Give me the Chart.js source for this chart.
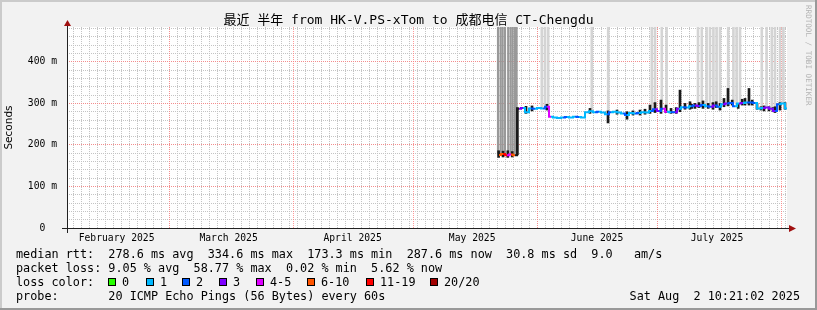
<!DOCTYPE html>
<html>
<head>
<meta charset="utf-8">
<title>SmokePing - HK-V.PS-xTom to CT-Chengdu</title>
<script src="https://cdn.jsdelivr.net/npm/chart.js@4/dist/chart.umd.min.js"></script>
<style>
  html, body { margin: 0; padding: 0; background: #f2f2f2; }
  #wrap { position: relative; width: 817px; height: 310px; overflow: hidden; }
  #wrap canvas { position: absolute; left: 0; top: 0; }
  .leg { position: absolute; left: 16px; font: 11.8px "DejaVu Sans Mono", monospace; color: #000; white-space: pre; line-height: 14px; }
  .box { position: absolute; width: 6px; height: 6px; border: 1px solid #000; top: 278px; }
  #mark { position: absolute; left: 804px; top: 5px; writing-mode: vertical-rl; font: 7.6px "DejaVu Sans Mono", monospace; color: #b4b4b4; line-height: 8px; }
</style>
</head>
<body>
<div id="wrap">
  <canvas id="pingChart" width="817" height="310"></canvas>
  <div id="mark">RRDTOOL / TOBI OETIKER</div>
  <div class="leg" style="top:247px">median rtt:  278.6 ms avg  334.6 ms max  173.3 ms min  287.6 ms now  30.8 ms sd  9.0   am/s</div>
  <div class="leg" style="top:261px">packet loss: 9.05 % avg  58.77 % max  0.02 % min  5.62 % now</div>
  <div class="leg" style="top:275px">loss color:</div>
  <div id="lossLegend"></div>
  <div class="leg" style="top:289px">probe:       20 ICMP Echo Pings (56 Bytes) every 60s</div>
  <div class="leg" style="left:auto;right:17px;top:289px">Sat Aug  2 10:21:02 2025</div>
</div>

<script>
// smokeping loss colours (20 pings per round)
const lossColors = ['#26ff00', '#00b8ff', '#0059ff', '#7e00ff', '#dd00ff', '#ff5500', '#ff0000', '#a10000'];
const lossLabels = ['0', '1', '2', '3', '4-5', '6-10', '11-19', '20/20'];

// x is days since graph start (Feb 3 2025 10:21), 180 days wide
const monthLabels = ['February 2025', 'March 2025', 'April 2025', 'May 2025', 'June 2025', 'July 2025'];
const monthLabelDays = [12.4, 40.4, 71.4, 101.3, 132.5, 162.5];
const monthStartDays = [25.57, 56.57, 86.57, 117.57, 147.57, 178.57];
const yTicks = [0, 100, 200, 300, 400];

// median rtt (ms) per day and number of lost pings (index into lossColors)
const medianDays = [108, 109, 110, 111, 112, 113, 114, 115, 116, 117, 118, 119, 120,
  121, 122, 123, 124, 125, 126, 127, 128, 129, 130, 131, 132, 133, 134, 135, 136, 137,
  138, 139, 140, 141, 142, 143, 144, 145, 146, 147, 148, 149, 150, 151, 152, 153, 154,
  155, 156, 157, 158, 159, 160, 161, 162, 163, 164, 165, 166, 167, 168, 169, 170, 171,
  172, 173, 174, 175, 176, 177, 178, 179, 180];
const medianMs = [176, 178, 175, 177, 175, 287, 289, 279, 288, 287, 289, 288, 292,
  268, 266, 265, 266, 267, 266, 268, 267, 266, 279, 281, 279, 280, 278, 274, 279, 280,
  278, 276, 272, 277, 276, 277, 279, 278, 282, 286, 282, 287, 280, 279, 279, 287, 291,
  290, 293, 295, 294, 296, 293, 292, 295, 292, 298, 300, 301, 293, 300, 301, 302, 302,
  301, 288, 289, 290, 287, 282, 298, 300, 288];
const medianLoss = [5, 6, 4, 5, 5, 3, 1, 1, 2, 1, 1, 2, 4,
  1, 1, 1, 2, 1, 1, 2, 1, 1, 1, 1, 2, 1, 1, 2, 1, 1,
  1, 2, 1, 1, 2, 1, 1, 1, 2, 3, 2, 4, 1, 2, 3, 1, 2,
  1, 2, 3, 2, 1, 2, 3, 2, 1, 3, 2, 2, 1, 3, 1, 2, 2,
  1, 1, 3, 3, 3, 2, 1, 1, 1];

// dark smoke: spread of the pings around the median
const spikeDays = [107.9, 109, 110.2, 111.3, 112.6, 114.75, 116.25, 120, 130.75, 135.25,
  137.5, 140, 141.5, 143.25, 144.5, 145.75, 147, 148.5, 149.75, 151, 152.3, 153.25,
  154.5, 155.75, 156.2, 157, 158, 159, 160.3, 161.5, 162.3, 163.25, 164.25, 165.25,
  166.3, 167.8, 168.8, 169.5, 170.5, 171.3, 172.5, 173.5, 174.25, 175.5, 176.5, 177,
  178.25, 179.5];
const spikeLo = [170, 171, 170, 171, 176, 276, 282, 284, 276, 253,
  274, 262, 272, 272, 274, 276, 278, 276, 278, 276, 276, 280,
  286, 286, 288, 288, 290, 288, 288, 286, 290, 284, 292, 294,
  296, 288, 296, 296, 296, 296, 286, 284, 282, 282, 280, 278,
  284, 286];
const spikeHi = [186, 185, 186, 184, 290, 293, 294, 298, 288, 282,
  284, 280, 282, 284, 286, 296, 302, 308, 296, 288, 290, 332,
  300, 304, 298, 300, 302, 306, 300, 302, 304, 300, 312, 336,
  308, 300, 310, 312, 336, 308, 300, 292, 294, 292, 290, 292,
  302, 302];

// rounds with very slow pings: smoke runs off the top of the graph
const lossSmokeDays = [107.75, 108.4, 108.9, 109.5, 110.3, 110.9, 111.4, 112, 112.4];
const lossSmokeLo = [178, 178, 177, 178, 176, 178, 177, 176, 177];
const smokeDays = [118.7, 119.5, 120.3, 131.2, 135.3, 146.2, 147, 148.7, 149.9, 157.75,
  158.7, 159.9, 160.75, 161.6, 162.4, 163.25, 165.3, 166.6, 167.4, 168.25, 173.7, 174.9,
  176.2, 177, 178.25, 179.1];
const smokeLo = [290, 290, 292, 282, 280, 283, 286, 285, 282, 295, 296, 296, 294, 294, 296,
  294, 300, 301, 295, 300, 290, 290, 288, 284, 298, 300];

const yTop = 484;
const monoFont = '"DejaVu Sans Mono", "Noto Sans CJK SC", monospace';

// loss colour legend boxes
const boxX = [108, 146, 182, 219, 256, 307, 366, 430];
const legendEl = document.getElementById('lossLegend');
lossLabels.forEach((lbl, i) => {
  const b = document.createElement('div');
  b.className = 'box';
  b.style.left = boxX[i] + 'px';
  b.style.background = lossColors[i];
  legendEl.appendChild(b);
  const t = document.createElement('div');
  t.className = 'leg';
  t.style.left = (boxX[i] + 14) + 'px';
  t.style.top = '275px';
  t.textContent = lbl;
  legendEl.appendChild(t);
});

// grid positions: minor every 2 days, every 20 ms
const minorDays = [];
for (let d = monthStartDays[0]; d > 0; d -= 2) minorDays.unshift(d);
for (let d = monthStartDays[0] + 2; d < 180; d += 2) minorDays.push(d);
const minorMs = [];
for (let v = 20; v < yTop; v += 20) minorMs.push(v);

function zeroSize(s) {
  if (s.isHorizontal()) s.height = 0; else s.width = 0;
}

const framePlugin = {
  id: 'frame',
  beforeDraw(chart) {
    const { ctx, chartArea: a, width, height } = chart;
    ctx.save();
    ctx.fillStyle = '#f2f2f2';
    ctx.fillRect(0, 0, width, height);
    ctx.fillStyle = '#cbcbcb';
    ctx.fillRect(0, 0, width, 2);
    ctx.fillRect(0, 0, 2, height);
    ctx.fillStyle = '#999999';
    ctx.fillRect(0, height - 2, width, 2);
    ctx.fillRect(width - 2, 0, 2, height);
    ctx.fillStyle = '#ffffff';
    ctx.fillRect(a.left, a.top, a.right - a.left, a.bottom - a.top);
    ctx.restore();
  },
  afterDatasetsDraw(chart) {
    const { ctx, chartArea: a } = chart;
    const yb = a.bottom + 0.5, xl = a.left + 0.5;
    ctx.save();
    ctx.strokeStyle = '#222';
    ctx.lineWidth = 1;
    ctx.beginPath();
    ctx.moveTo(a.left - 5, yb); ctx.lineTo(a.right + 3, yb);
    ctx.moveTo(xl, a.bottom + 5); ctx.lineTo(xl, a.top - 2);
    ctx.stroke();
    ctx.fillStyle = '#a01010';
    ctx.beginPath();
    ctx.moveTo(a.right + 9, yb); ctx.lineTo(a.right + 2, yb - 3.5); ctx.lineTo(a.right + 2, yb + 3.5);
    ctx.closePath(); ctx.fill();
    ctx.beginPath();
    ctx.moveTo(xl, a.top - 7); ctx.lineTo(xl - 3.5, a.top - 1); ctx.lineTo(xl + 3.5, a.top - 1);
    ctx.closePath(); ctx.fill();
    ctx.restore();
  }
};

new Chart(document.getElementById('pingChart'), {
  type: 'line',
  data: {
    datasets: [
      {
        type: 'line',
        label: 'median rtt',
        data: medianDays.map((d, i) => ({ x: d, y: medianMs[i] })),
        stepped: 'middle',
        borderWidth: 2,
        pointRadius: 0,
        borderColor: lossColors[1],
        segment: {
          // big jumps between rounds show up as dark smoke, not loss colour
          borderColor: c => Math.abs(c.p1.parsed.y - c.p0.parsed.y) > 50 ? '#1a1a1a' : lossColors[medianLoss[c.p0DataIndex]]
        },
        order: 0
      },
      {
        type: 'bar',
        label: 'smoke',
        data: spikeDays.map((d, i) => ({ x: d, y: [spikeLo[i], spikeHi[i]] })),
        backgroundColor: '#1a1a1a',
        barThickness: 2,
        grouped: false,
        order: 1
      },
      {
        type: 'bar',
        label: 'loss smoke',
        data: lossSmokeDays.map((d, i) => ({ x: d, y: [lossSmokeLo[i], 490] })),
        backgroundColor: '#999999',
        barThickness: 1.5,
        grouped: false,
        order: 2
      },
      {
        type: 'bar',
        label: 'slow smoke',
        data: smokeDays.map((d, i) => ({ x: d, y: [smokeLo[i], 490] })),
        backgroundColor: '#d4d4d4',
        barThickness: 2,
        grouped: false,
        order: 3
      }
    ]
  },
  options: {
    responsive: false,
    devicePixelRatio: 1,
    animation: false,
    layout: { padding: 0 },
    plugins: {
      legend: { display: false },
      tooltip: { enabled: false },
      title: {
        display: true,
        text: '最近 半年 from HK-V.PS-xTom to 成都电信 CT-Chengdu',
        color: '#000',
        font: { family: monoFont, size: 13, weight: 'normal', lineHeight: 1 },
        padding: { top: 14, bottom: 0 }
      }
    },
    scales: {
      x: {
        type: 'linear', position: 'bottom', min: 0, max: 180, offset: false,
        afterBuildTicks: s => { s.ticks = monthLabelDays.map(v => ({ value: v })); },
        afterFit: s => { s.height = 82; },
        ticks: {
          callback: (v, i) => monthLabels[i],
          autoSkip: false, maxRotation: 0, padding: 5, color: '#000',
          font: { family: monoFont, size: 9.7 }
        },
        grid: { display: false, drawTicks: false, tickLength: 0 },
        border: { display: false }
      },
      xMajor: {
        type: 'linear', position: 'bottom', min: 0, max: 180, offset: false,
        afterBuildTicks: s => { s.ticks = monthStartDays.map(v => ({ value: v })); },
        afterFit: zeroSize,
        ticks: { display: false },
        grid: { color: 'rgba(255,128,128,0.8)', drawTicks: false, z: -2 },
        border: { display: false, dash: [1, 1] }
      },
      xMinor: {
        type: 'linear', position: 'bottom', min: 0, max: 180, offset: false,
        afterBuildTicks: s => { s.ticks = minorDays.map(v => ({ value: v })); },
        afterFit: zeroSize,
        ticks: { display: false },
        grid: { color: '#c4c4c4', drawTicks: false, z: -3 },
        border: { display: false, dash: [1, 1] }
      },
      y: {
        type: 'linear', position: 'left', min: 0, max: yTop,
        afterBuildTicks: s => { s.ticks = yTicks.map(v => ({ value: v })); },
        afterFit: s => { s.width = 67; },
        ticks: {
          callback: v => v === 0 ? '0  ' : v + ' m',
          padding: 10, color: '#000',
          font: { family: monoFont, size: 9.7 }
        },
        title: {
          display: true, text: 'Seconds', color: '#000',
          font: { family: '"DejaVu Sans", sans-serif', size: 10.5 },
          padding: { top: 3, bottom: 0 }
        },
        grid: { display: false, drawTicks: false, tickLength: 0 },
        border: { display: false }
      },
      yMajor: {
        type: 'linear', position: 'left', min: 0, max: yTop,
        afterBuildTicks: s => { s.ticks = yTicks.slice(1).map(v => ({ value: v })); },
        afterFit: zeroSize,
        ticks: { display: false },
        grid: { color: 'rgba(255,128,128,0.8)', drawTicks: false, z: -2 },
        border: { display: false, dash: [1, 1] }
      },
      yMinor: {
        // sits on the right so its empty box leaves room for the axis arrow
        type: 'linear', position: 'right', min: 0, max: yTop,
        afterBuildTicks: s => { s.ticks = minorMs.map(v => ({ value: v })); },
        afterFit: s => { s.width = 30; },
        ticks: { display: false },
        grid: { color: '#c4c4c4', drawTicks: false, z: -3 },
        border: { display: false, dash: [1, 1] }
      }
    }
  },
  plugins: [framePlugin]
});
</script>
</body>
</html>
